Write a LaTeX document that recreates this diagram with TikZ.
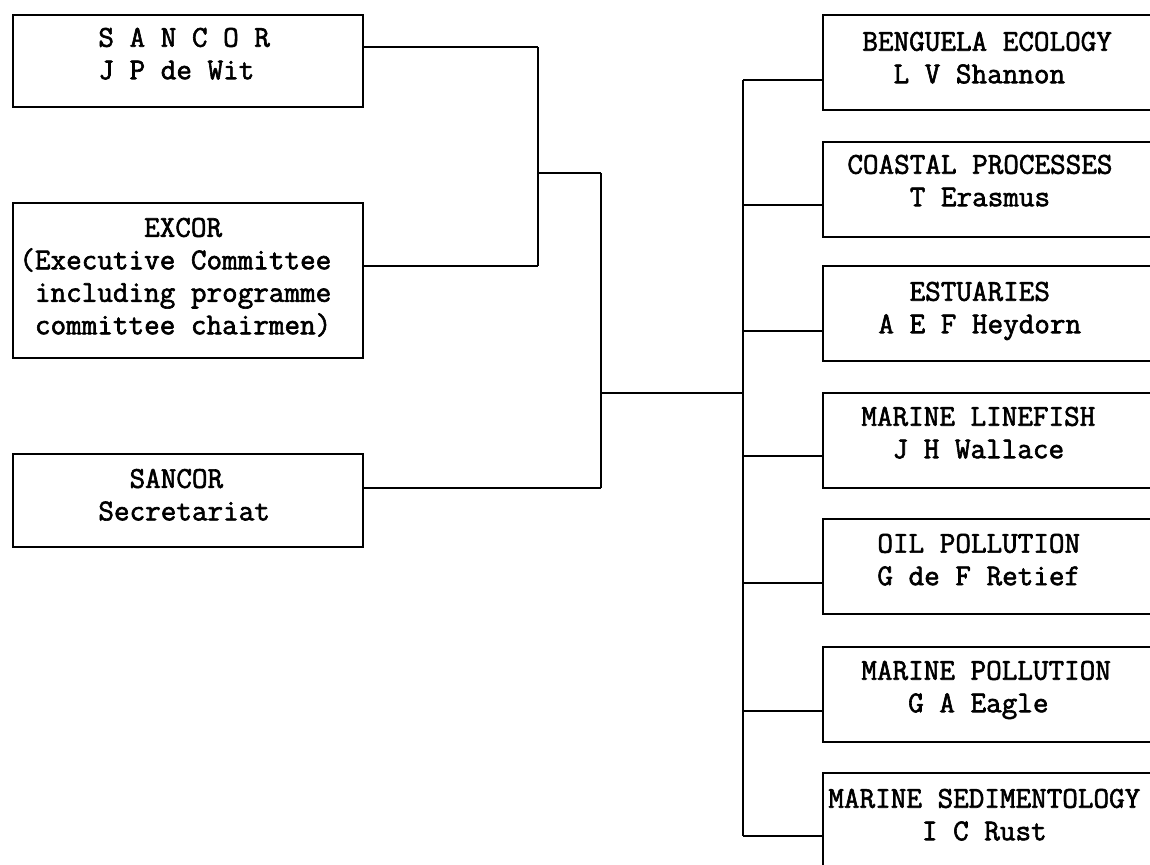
\documentclass[tikz,border=0pt]{standalone}
\usepackage{fontspec}
\newfontfamily\tw[FakeBold=2]{Latin Modern Mono}
\begin{document}
\begin{tikzpicture}[x=0.5pt,y=-0.5pt,
  box/.style={draw,line width=1.4pt,inner sep=0pt,outer sep=0pt,anchor=north west},
  lbox/.style={box,minimum width=175pt},
  rbox/.style={box,minimum width=180pt,minimum height=47.5pt},
  txt/.style={anchor=north west,inner sep=0pt,align=left,
    font=\tw\fontsize{15.14}{16.25}\selectfont,execute at begin node=\strut},
  conn/.style={line width=1.1pt},
  vline/.style={line width=1.4pt}]
\useasboundingbox (0,0) rectangle (1150,864);
\clip (0,0) rectangle (1150,864);
\fill[white] (0,0) rectangle (1150,864);
% left boxes
\node[lbox,minimum height=46pt] (sancor) at (13,15) {};
\node[txt] (sancor-t) at (98,27.4) {S A N C O R\\J P de Wit};
\node[lbox,minimum height=77.5pt] (excor) at (13,203) {};
\node[txt] (excor-t) at (19,217.5) {\hphantom{XXXXXXXX}EXCOR\\(Executive Committee\\\hphantom{X}including programme\\\hphantom{X}committee chairmen)};
\node[lbox,minimum height=46.5pt] (secr) at (13,454) {};
\node[txt] (secr-t) at (98,468.5) {\hphantom{XX}SANCOR\\Secretariat};
% right boxes
\node[rbox] (r1) at (823,15) {};
\node[txt] (r1-t) at (862,31.4) {BENGUELA ECOLOGY\\\hphantom{XX}L V Shannon};
\node[rbox] (r2) at (823,142) {};
\node[txt] (r2-t) at (847,154.4) {COASTAL PROCESSES\\\hphantom{XXXX}T Erasmus};
\node[rbox] (r3) at (823,266) {};
\node[txt] (r3-t) at (878,281.4) {\hphantom{XX}ESTUARIES\\A E F Heydorn};
\node[rbox] (r4) at (823,393) {};
\node[txt] (r4-t) at (861,406.4) {MARINE LINEFISH\\\hphantom{XX}J H Wallace};
\node[rbox] (r5) at (823,519) {};
\node[txt] (r5-t) at (877,533.4) {OIL POLLUTION\\G de F Retief};
\node[rbox] (r6) at (823,647) {};
\node[txt] (r6-t) at (861,660.4) {MARINE POLLUTION\\\hphantom{XXX}G A Eagle};
\node[rbox,minimum height=50pt] (r7) at (823,773) {};
\node[txt] (r7-t) at (828,788.4) {MARINE SEDIMENTOLOGY\\\hphantom{XXXXXX}I C Rust};
% junction coordinates
\coordinate (s1) at (538,47);
\coordinate (s2) at (538,266);
\coordinate (s3) at (538,173);
\coordinate (m1) at (601,173);
\coordinate (m2) at (601,393);
\coordinate (m3) at (601,488);
\coordinate (t0) at (743,393);
\coordinate (c1) at (743,80);
\coordinate (c2) at (743,205);
\coordinate (c3) at (743,331);
\coordinate (c4) at (743,456);
\coordinate (c5) at (743,583);
\coordinate (c6) at (743,711);
\coordinate (c7) at (743,836);
% connectors
\draw[conn] (sancor.east |- s1) -- (s1);
\draw[conn] (excor.east |- s2) -- (s2);
\draw[vline] (s1) -- (s2);
\draw[conn] (s3) -- (m1);
\draw[vline] (m1) -- (m3);
\draw[conn] (secr.east |- m3) -- (m3);
\draw[conn] (m2) -- (t0);
\draw[vline] (c1) -- (c7);
\foreach \i in {1,...,7} {\draw[conn] (c\i) -- (r\i.west |- c\i);}
\end{tikzpicture}
\end{document}
